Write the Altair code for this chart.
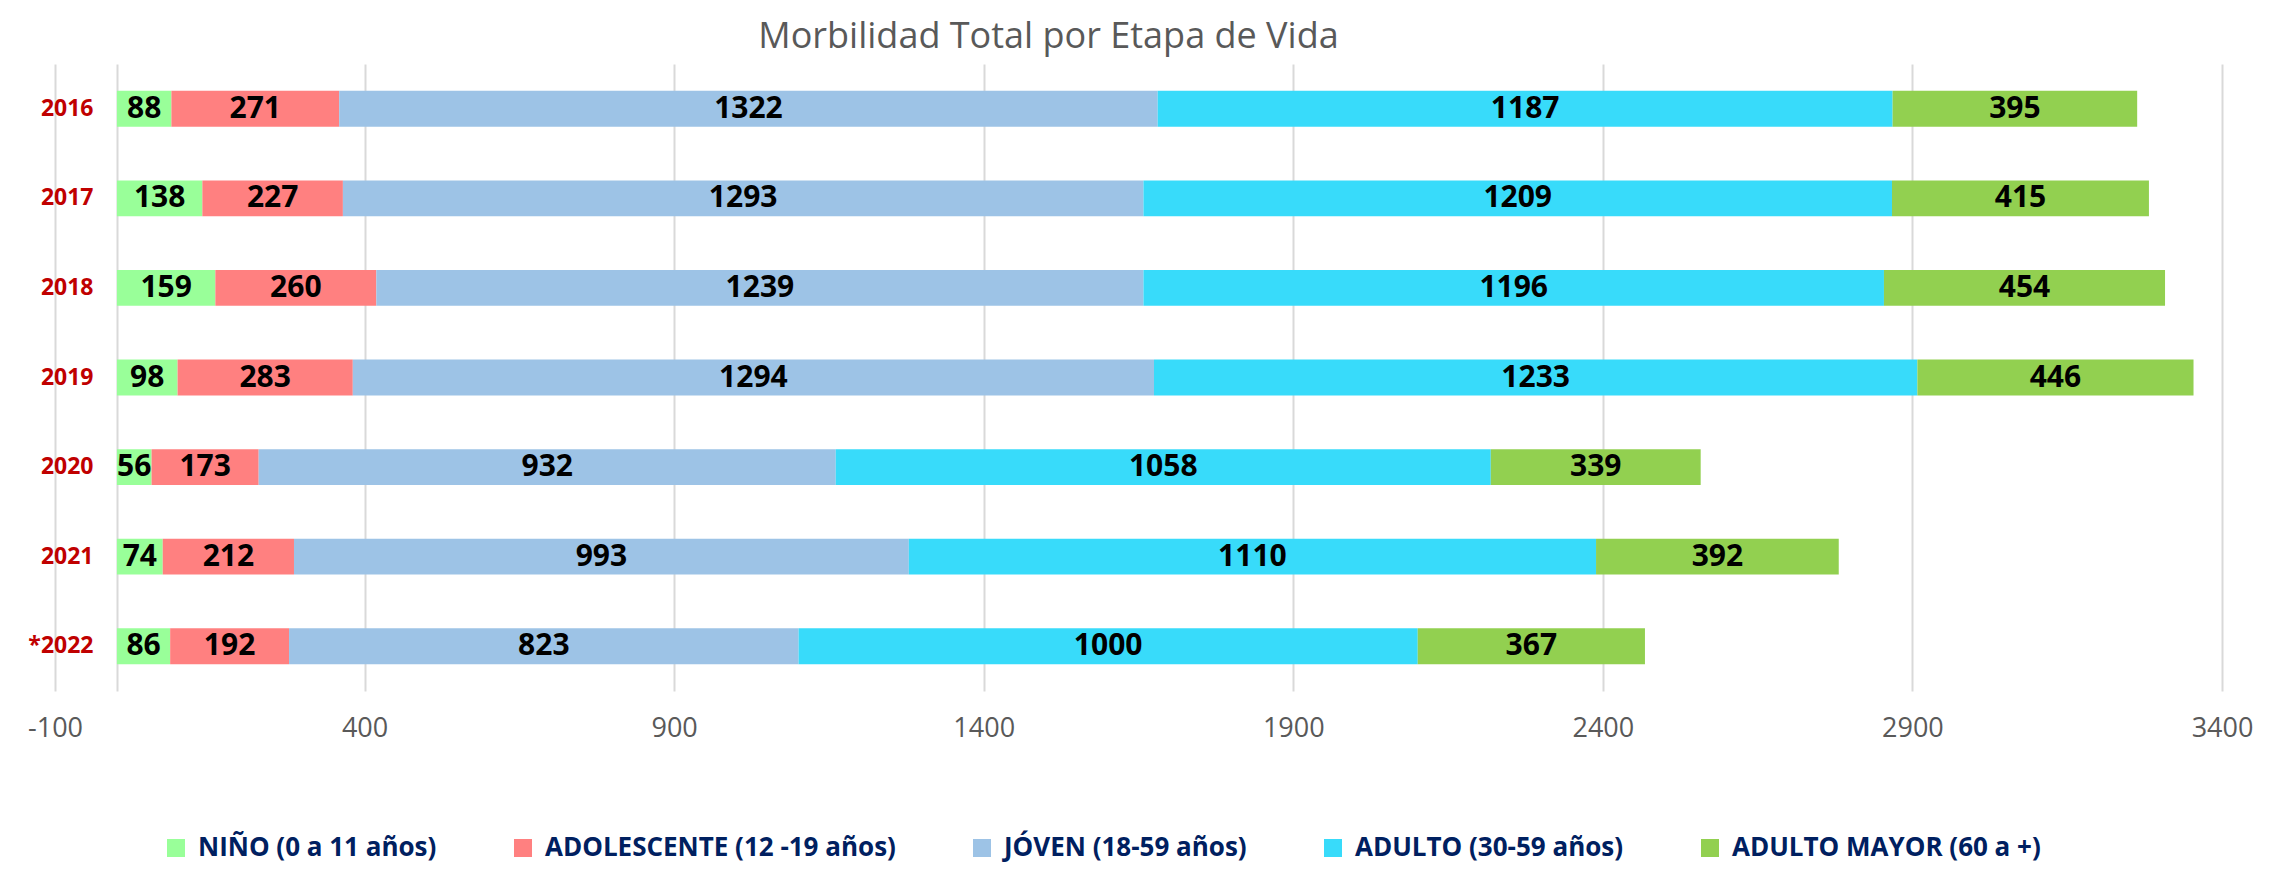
import altair as alt
import pandas as pd

years = ["2016", "2017", "2018", "2019", "2020", "2021", "*2022"]
groups = ["NIÑO (0 a 11 años)", "ADOLESCENTE (12 -19 años)", "JÓVEN (18-59 años)",
          "ADULTO (30-59 años)", "ADULTO MAYOR (60 a +)"]
nino = [88, 138, 159, 98, 56, 74, 86]
adolescente = [271, 227, 260, 283, 173, 212, 192]
joven = [1322, 1293, 1239, 1294, 932, 993, 823]
adulto = [1187, 1209, 1196, 1233, 1058, 1110, 1000]
mayor = [395, 415, 454, 446, 339, 392, 367]
colors = ["#99FF99", "#FF8080", "#9DC3E6", "#38DBFA", "#92D050"]
x_ticks = [-100, 400, 900, 1400, 1900, 2400, 2900, 3400]

series = [nino, adolescente, joven, adulto, mayor]
rows = []
for gi, (g, vals) in enumerate(zip(groups, series)):
    for y, v in zip(years, vals):
        rows.append({"year": y, "group": g, "order": gi, "value": v})
df = pd.DataFrame(rows)

FONT = "Open Sans, sans-serif"

base = alt.Chart(df).transform_stack(
    stack="value", as_=["x0", "x1"], groupby=["year"],
    sort=[alt.SortField("order", order="ascending")]
).transform_calculate(mid="(datum.x0 + datum.x1) / 2")

yenc = alt.Y("year:N", sort=years, title=None,
             scale=alt.Scale(paddingInner=0.6, paddingOuter=0.3),
             axis=alt.Axis(orient="left", offset=-62, domain=True, domainColor="#D9D9D9",
                           domainWidth=2, ticks=False, tickSize=0, labelPadding=24,
                           labelColor="#C00000", labelFont=FONT, labelFontSize=23,
                           labelFontWeight="bold", grid=False))

bars = base.mark_bar().encode(
    x=alt.X("x0:Q", title=None,
            scale=alt.Scale(domain=[-100, 3400], nice=False, zero=False),
            axis=alt.Axis(values=x_ticks, grid=True, gridColor="#D9D9D9", gridWidth=2,
                          domain=False, ticks=False, labelPadding=24, labelFont=FONT,
                          labelFontSize=27, labelColor="#595959", labelFlush=False,
                          labelExpr="'' + datum.value")),
    x2="x1:Q",
    y=yenc,
    color=alt.Color("group:N", sort=groups,
                    scale=alt.Scale(domain=groups, range=colors),
                    legend=alt.Legend(title=None, orient="none", direction="horizontal",
                                      legendX=108, legendY=771, symbolType="square",
                                      symbolSize=324, symbolStrokeWidth=0,
                                      labelFont=FONT, labelFontSize=26, labelFontWeight="bold",
                                      labelColor="#002060", labelLimit=600, labelOffset=9,
                                      columnPadding=73, padding=0)),
)

labels = base.mark_text(font=FONT, fontSize=30, fontWeight="bold", color="black",
                        align="center", baseline="middle").encode(
    x="mid:Q",
    y=alt.Y("year:N", sort=years),
    text="value:Q",
)

chart = alt.layer(bars, labels).properties(
    width=2167, height=627,
    autosize=alt.AutoSizeParams(type="none"),
    padding={"left": 47, "top": 56, "right": 50, "bottom": 178},
    title=alt.TitleParams("Morbilidad Total por Etapa de Vida", anchor="middle", frame="group",
                          dx=-90, offset=8, font=FONT, fontSize=36, fontWeight="normal",
                          color="#595959"),
).configure_view(stroke=None)

chart.save("out.html", embed_options={"renderer": "svg", "actions": False})
